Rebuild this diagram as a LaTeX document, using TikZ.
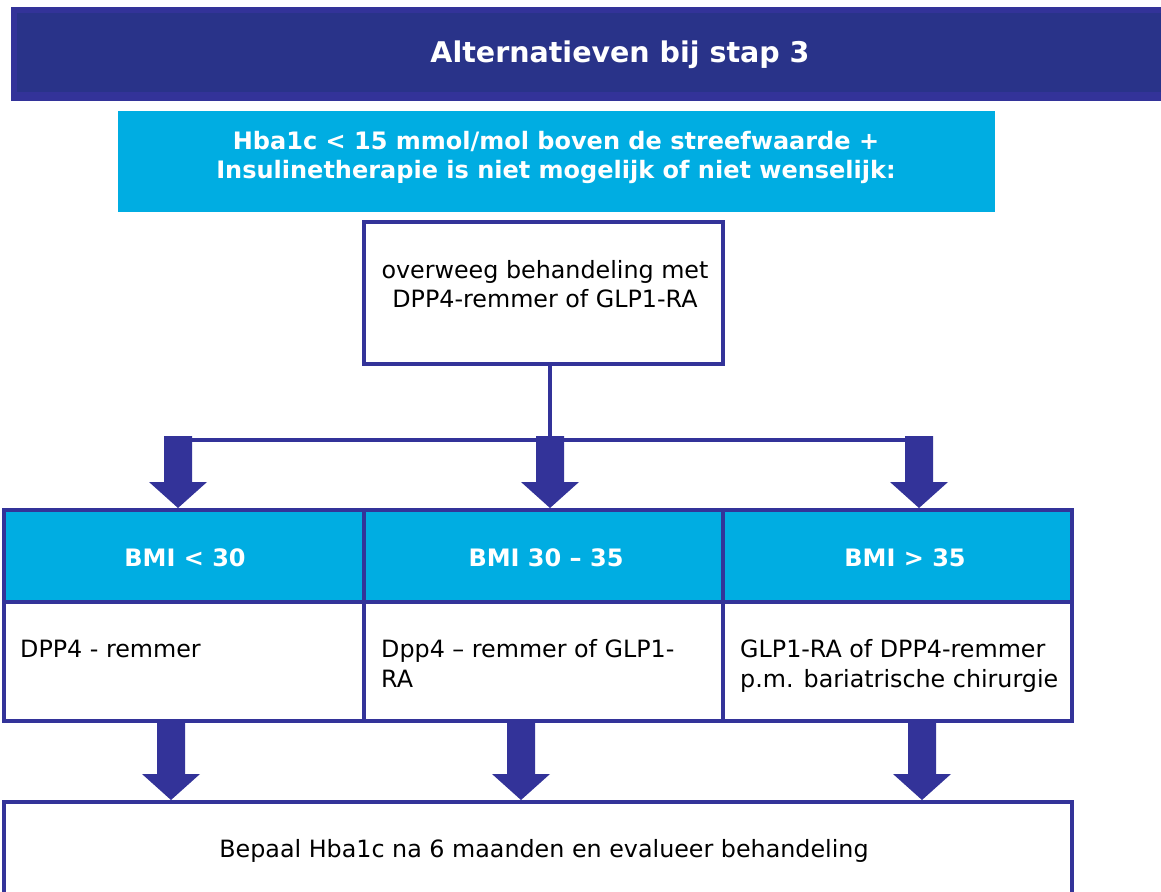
\documentclass[tikz,border=0pt]{standalone}
\usepackage{fontspec}
\setmainfont{DejaVu Sans}
\usetikzlibrary{calc}
\definecolor{navy}{HTML}{333399}
\definecolor{navyin}{HTML}{293389}
\definecolor{cyanbox}{HTML}{00ADE2}
\begin{document}
\begin{tikzpicture}[x=1pt,y=-1pt,
  conn/.style={draw=navy, line width=4pt},
  boxed/.style={draw=navy, line width=4pt, fill=white, inner sep=0pt, outer sep=0pt, anchor=north west},
  cellbox/.style={draw=navy, line width=3.6pt, inner sep=0pt, outer sep=0pt, anchor=north west},
  plain/.style={inner sep=0pt, outer sep=0pt, anchor=north west},
  boldtxt/.style={font=\fontsize{24}{29}\selectfont\bfseries, text=white, inner sep=0pt},
  titletxt/.style={font=\fontsize{28.5}{34}\selectfont\bfseries, text=white, inner sep=0pt},
  bodytxt/.style={font=\fontsize{23.8}{30}\selectfont, text=black, inner sep=0pt},
  fat/.style={fill=navy, draw=none, to path={let \p1=(\tikztostart), \p2=(\tikztotarget) in
     (\x1-14,\y1) -- (\x1+14,\y1) -- (\x1+14,\y2+26) -- (\x1+29,\y2+26) -- (\x1,\y2)
     -- (\x1-29,\y2+26) -- (\x1-14,\y2+26) -- cycle}},
]
\useasboundingbox (0,0) rectangle (1161,891);

% header band
\node[plain, fill=navy, minimum width=1170pt, minimum height=94pt] (hdr) at (11,7) {};
\node[plain, fill=navyin, minimum width=1160pt, minimum height=79pt] (hdrin) at (17,13) {};
\node[titletxt, anchor=base] (ttl) at (620,63) {Alternatieven bij stap 3};

% cyan condition box
\node[plain, fill=cyanbox, minimum width=877pt, minimum height=101pt] (cy) at (118,111) {};
\node[boldtxt, anchor=base] (cy1) at (556,149) {Hba1c < 15 mmol/mol boven de streefwaarde +};
\node[boldtxt, anchor=base] (cy2) at (556,178) {Insulinetherapie is niet mogelijk of niet wenselijk:};

% middle box
\node[boxed, minimum width=358.7pt, minimum height=142.3pt] (ov) at (364,222) {};
\node[bodytxt, anchor=base] (ov1) at (545,278) {overweeg behandeling met};
\node[bodytxt, anchor=base] (ov2) at (545,307) {DPP4-remmer of GLP1-RA};

% junction
\coordinate (k1) at (178,440);
\coordinate (k2) at (550,440);
\coordinate (k3) at (919,440);
\draw[conn] (k2 |- ov.south) -- (k2);
\draw[conn] (k1) -- (k3);

% table
\node[cellbox, fill=cyanbox, minimum width=359.8pt, minimum height=92pt] (h1) at (4.2,510) {};
\node[cellbox, fill=cyanbox, minimum width=358.7pt, minimum height=92pt] (h2) at (364,510) {};
\node[cellbox, fill=cyanbox, minimum width=349.3pt, minimum height=92pt] (h3) at (722.7,510) {};
\node[cellbox, fill=white, minimum width=359.8pt, minimum height=119pt] (l1) at (4.2,602) {};
\node[cellbox, fill=white, minimum width=358.7pt, minimum height=119pt] (l2) at (364,602) {};
\node[cellbox, fill=white, minimum width=349.3pt, minimum height=119pt] (l3) at (722.7,602) {};

\node[boldtxt, anchor=base] (t1) at (185,566) {BMI < 30};
\node[boldtxt, anchor=base] (t2) at (546,566) {BMI 30 – 35};
\node[boldtxt, anchor=base] (t3) at (905,566) {BMI > 35};

\node[bodytxt, anchor=base west] (u1) at (20,657) {DPP4 - remmer};
\node[bodytxt, anchor=base west] (u2a) at (381,657) {Dpp4 – remmer of GLP1-};
\node[bodytxt, anchor=base west] (u2b) at (381,687) {RA};
\node[bodytxt, anchor=base west] (u3a) at (740,657) {GLP1-RA of DPP4-remmer};
\node[bodytxt, anchor=base west] (u3b) at (740,687) {p.m. bariatrische chirurgie};

% final box
\node[boxed, minimum width=1067.8pt, minimum height=140pt] (fin) at (4.2,802) {};
\node[bodytxt, anchor=base] (fint) at (544,857) {Bepaal Hba1c na 6 maanden en evalueer behandeling};

% block arrows top
\coordinate (a1) at (178,436);
\coordinate (a2) at (550,436);
\coordinate (a3) at (919,436);
\fill[fat] (a1) to ($(a1 |- h1.north)+(0,-2)$);
\fill[fat] (a2) to ($(a2 |- h2.north)+(0,-2)$);
\fill[fat] (a3) to ($(a3 |- h3.north)+(0,-2)$);

% block arrows bottom
\coordinate (b1) at (171,721);
\coordinate (b2) at (521,721);
\coordinate (b3) at (922,721);
\fill[fat] (b1) to ($(b1 |- fin.north)+(0,-2)$);
\fill[fat] (b2) to ($(b2 |- fin.north)+(0,-2)$);
\fill[fat] (b3) to ($(b3 |- fin.north)+(0,-2)$);
\end{tikzpicture}
\end{document}
